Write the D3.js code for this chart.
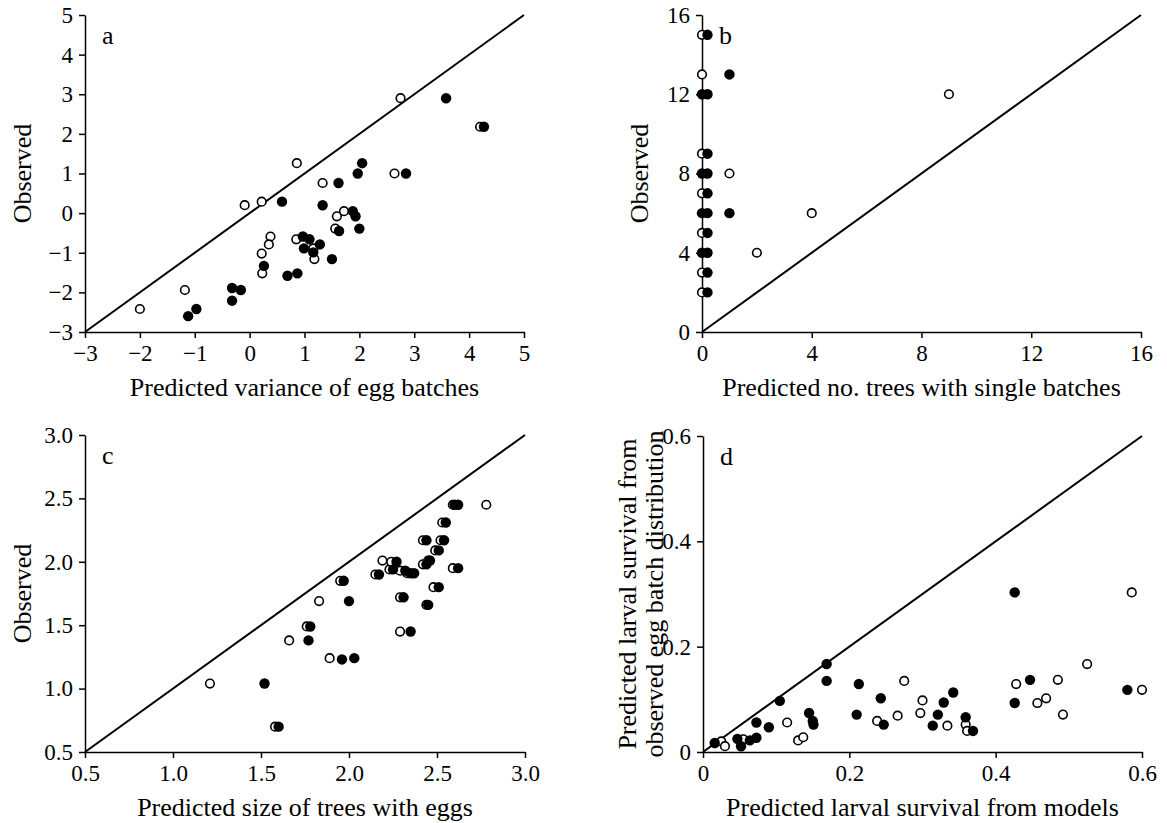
<!DOCTYPE html>
<html>
<head>
<meta charset="utf-8">
<script src="https://cdn.jsdelivr.net/npm/d3@7"></script>
<style>
  body { margin: 0; background: #fff; }
  svg text { font-family: "Liberation Serif", "Times New Roman", serif; fill: #000; }
  .axis path, .axis line { stroke: #000; stroke-width: 1.5; }
</style>
</head>
<body>
<div id="chart"></div>
<script>
// panel a: predicted vs observed variance of egg batches
const aOpen = [[-2.0,-2.42],[-1.18,-1.94],[-0.09,0.2],[0.22,0.29],[0.86,1.26],[0.38,-0.59],[0.35,-0.79],
  [0.22,-1.02],[0.23,-1.52],[0.85,-0.66],[1.33,0.76],[1.16,-0.89],[1.18,-1.16],[1.72,0.05],[1.59,-0.08],
  [1.56,-0.39],[2.64,1.0],[2.75,2.9],[4.2,2.18]];
const aFilled = [[-1.12,-2.6],[-0.97,-2.42],[-0.32,-1.89],[-0.16,-1.94],[-0.32,-2.21],[0.26,-1.33],[0.59,0.29],
  [0.69,-1.58],[0.87,-1.52],[0.97,-0.59],[0.99,-0.89],[1.09,-0.66],[1.16,-0.99],[1.28,-0.79],[1.33,0.2],
  [1.5,-1.16],[1.62,0.76],[1.63,-0.45],[1.88,0.05],[1.93,-0.08],[2.0,-0.39],[1.97,1.0],[2.05,1.26],
  [2.85,1.0],[3.58,2.9],[4.27,2.18]];

// panel b: no. trees with single batches
const bOpen = [[0,15],[0,13],[0,9],[0,7],[0,5],[0,3],[0,2],[1,8],[2,4],[4,6],[9,12]];
const bFilled = [[0.2,15],[0,12],[0.2,12],[0.2,9],[0,8],[0.2,8],[0.2,7],[0,6],[0.2,6],[0.2,5],[0,4],[0.2,4],
  [0.2,3],[0.2,2],[1,13],[1,6]];

// panel c: size of trees with eggs
const cOpen = [[1.21,1.04],[1.58,0.7],[1.66,1.38],[1.76,1.49],[1.89,1.24],[1.83,1.69],[1.95,1.85],[2.15,1.9],
  [2.19,2.01],[2.23,1.94],[2.24,2.0],[2.29,1.93],[2.29,1.72],[2.29,1.45],[2.33,1.91],[2.42,2.17],[2.42,1.98],
  [2.44,1.66],[2.45,2.01],[2.49,2.09],[2.48,1.8],[2.52,2.17],[2.53,2.31],[2.59,2.45],[2.59,1.95],[2.78,2.45]];
const cFilled = [[1.52,1.04],[1.6,0.7],[1.77,1.38],[1.78,1.49],[1.96,1.23],[2.03,1.24],[2.0,1.69],[1.97,1.85],
  [2.17,1.9],[2.25,1.94],[2.27,2.0],[2.32,1.93],[2.31,1.72],[2.35,1.45],[2.35,1.91],[2.37,1.91],[2.44,2.17],
  [2.44,1.98],[2.45,1.66],[2.46,2.01],[2.51,2.09],[2.51,1.8],[2.54,2.17],[2.55,2.31],[2.6,2.45],[2.62,2.45],
  [2.62,1.95]];

// panel d: larval survival
const dOpen = [[0.025,0.02],[0.03,0.011],[0.055,0.024],[0.115,0.056],[0.13,0.022],[0.137,0.028],[0.238,0.059],
  [0.266,0.069],[0.275,0.135],[0.297,0.074],[0.3,0.098],[0.334,0.05],[0.359,0.052],[0.361,0.04],[0.428,0.129],
  [0.457,0.093],[0.469,0.102],[0.485,0.137],[0.492,0.071],[0.525,0.167],[0.586,0.303],[0.6,0.118]];
const dFilled = [[0.016,0.017],[0.047,0.025],[0.052,0.011],[0.064,0.022],[0.073,0.027],[0.073,0.056],[0.09,0.047],
  [0.105,0.097],[0.145,0.074],[0.15,0.059],[0.151,0.052],[0.169,0.167],[0.169,0.135],[0.21,0.071],[0.213,0.129],
  [0.243,0.102],[0.247,0.052],[0.314,0.05],[0.321,0.071],[0.329,0.094],[0.342,0.113],[0.359,0.066],[0.369,0.04],
  [0.426,0.303],[0.426,0.093],[0.447,0.137],[0.58,0.118]];

const aTicks = [-3,-2,-1,0,1,2,3,4,5];
const bTicks = [0,4,8,12,16];
const cTicks = [0.5,1.0,1.5,2.0,2.5,3.0];
const dTicks = [0,0.2,0.4,0.6];

const width = 1167, height = 823;
const svg = d3.select("#chart").append("svg")
  .attr("width", width)
  .attr("height", height);

const panels = [
  { letter: "a", open: aOpen, filled: aFilled, ticks: aTicks, fmt: d3.format("d"),
    left: 85, right: 524, top: 15, bottom: 332,
    xTitle: "Predicted variance of egg batches", yTitle: ["Observed"] },
  { letter: "b", open: bOpen, filled: bFilled, ticks: bTicks, fmt: d3.format("d"),
    left: 702, right: 1141, top: 15, bottom: 332,
    xTitle: "Predicted no. trees with single batches", yTitle: ["Observed"] },
  { letter: "c", open: cOpen, filled: cFilled, ticks: cTicks, fmt: d3.format(".1f"),
    left: 85, right: 525, top: 435, bottom: 752,
    xTitle: "Predicted size of trees with eggs", yTitle: ["Observed"] },
  { letter: "d", open: dOpen, filled: dFilled, ticks: dTicks, fmt: d => d === 0 ? "0" : d3.format(".1f")(d),
    left: 703, right: 1142, top: 436, bottom: 752,
    xTitle: "Predicted larval survival from models",
    yTitle: ["Predicted larval survival from", "observed egg batch distribution"] }
];

panels.forEach(drawPanel);

function drawPanel(p) {
  var dom = d3.extent(p.ticks);
  var x = d3.scaleLinear().domain(dom).range([p.left, p.right]);
  var y = d3.scaleLinear().domain(dom).range([p.bottom, p.top]);
  var g = svg.append("g");

  g.append("g")
    .attr("class", "axis")
    .attr("transform", "translate(0," + p.bottom + ")")
    .call(d3.axisBottom(x).tickValues(p.ticks).tickFormat(p.fmt).tickSize(6).tickSizeOuter(0).tickPadding(7));
  g.append("g")
    .attr("class", "axis")
    .attr("transform", "translate(" + p.left + ",0)")
    .call(d3.axisLeft(y).tickValues(p.ticks).tickFormat(p.fmt).tickSize(6).tickSizeOuter(0).tickPadding(6));
  g.selectAll(".axis text").style("font-size", "23px");

  // 1:1 line
  g.append("line")
    .attr("x1", x(dom[0])).attr("y1", y(dom[0]))
    .attr("x2", x(dom[1])).attr("y2", y(dom[1]))
    .attr("stroke", "#000")
    .attr("stroke-width", 2);

  g.selectAll(".open")
    .data(p.open)
    .enter().append("circle")
    .attr("class", "open")
    .attr("cx", d => x(d[0]))
    .attr("cy", d => y(d[1]))
    .attr("r", 4.3)
    .attr("fill", "#fff")
    .attr("stroke", "#000")
    .attr("stroke-width", 1.6);

  g.selectAll(".filled")
    .data(p.filled)
    .enter().append("circle")
    .attr("class", "filled")
    .attr("cx", d => x(d[0]))
    .attr("cy", d => y(d[1]))
    .attr("r", 5.2)
    .attr("fill", "#000");

  g.append("text")
    .attr("x", p.left + 17)
    .attr("y", p.top + 29)
    .style("font-size", "26px")
    .text(p.letter);

  g.append("text")
    .attr("x", (p.left + p.right) / 2)
    .attr("y", p.bottom + 64)
    .attr("text-anchor", "middle")
    .style("font-size", "26px")
    .text(p.xTitle);

  var n = p.yTitle.length;
  p.yTitle.forEach(function (t, i) {
    var cx = n === 1 ? p.left - 63 : p.left - 76 + i * 27;
    g.append("text")
      .attr("transform", "translate(" + cx + "," + (p.top + p.bottom) / 2 + ") rotate(-90)")
      .attr("text-anchor", "middle")
      .attr("dy", "0.35em")
      .style("font-size", "26px")
      .text(t);
  });
}
</script>
</body>
</html>
